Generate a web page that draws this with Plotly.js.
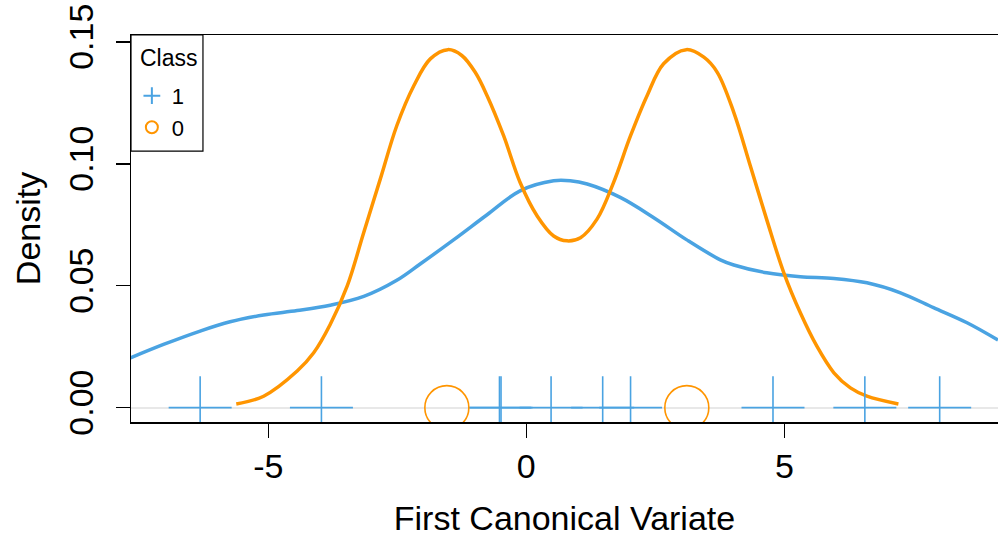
<!DOCTYPE html>
<html>
<head>
<meta charset="utf-8">
<script src="https://cdn.plot.ly/plotly-3.0.1.min.js"></script>
<style>
  html, body { margin: 0; padding: 0; background: #ffffff; }
  #chart { width: 998px; height: 539px; }
</style>
</head>
<body>
<div id="chart"></div>
<script>
// Density curve of class 1
const class1DensX = [-7.67, -7.03, -6.32, -5.74, -5.09, -4.44, -3.80, -3.15, -2.51, -2.05, -1.41, -0.76, -0.12, 0.53, 0.85, 1.18, 1.82, 2.47, 3.11, 3.76, 4.02, 4.66, 5.31, 5.96, 6.60, 7.25, 7.89, 8.54, 9.14];
const class1DensY = [0.0204, 0.0259, 0.0314, 0.0352, 0.0380, 0.0398, 0.0420, 0.0456, 0.0522, 0.0590, 0.0688, 0.0791, 0.0889, 0.0930, 0.0930, 0.0917, 0.0862, 0.0779, 0.0688, 0.0606, 0.0585, 0.0553, 0.0537, 0.0530, 0.0512, 0.0471, 0.0410, 0.0348, 0.0277];

// Density curve of class 0
const class0DensX = [-5.62, -5.09, -4.44, -4.12, -3.80, -3.47, -3.15, -2.83, -2.51, -2.18, -1.86, -1.52, -1.25, -0.99, -0.76, -0.44, -0.12, 0.21, 0.53, 0.79, 1.05, 1.37, 1.69, 2.02, 2.34, 2.66, 3.10, 3.44, 3.70, 4.02, 4.34, 4.66, 4.99, 5.31, 5.63, 5.96, 6.28, 6.60, 7.21];
const class0DensY = [0.0015, 0.0047, 0.0150, 0.0225, 0.0341, 0.0499, 0.0718, 0.0937, 0.1156, 0.1320, 0.1430, 0.1468, 0.1444, 0.1375, 0.1279, 0.1115, 0.0923, 0.0786, 0.0704, 0.0684, 0.0697, 0.0773, 0.0923, 0.1115, 0.1279, 0.1410, 0.1468, 0.1437, 0.1375, 0.1211, 0.0992, 0.0770, 0.0553, 0.0389, 0.0252, 0.0143, 0.0081, 0.0047, 0.0015];

// Observations (canonical variate scores) per class
const class1Points = [-6.32, -3.97, -0.52, -0.49, 0.48, 1.48, 2.02, 4.78, 6.56, 8.01];
const class0Points = [-1.54, 3.11];

// Axis ticks
const xTickVals = [-5, 0, 5];
const xTickText = ['-5', '0', '5'];
const yTickVals = [0, 0.05, 0.10, 0.15];
const yTickText = ['0.00', '0.05', '0.10', '0.15'];

const blue = '#4AA3E2';
const orange = '#FF9500';
const FONT = 'Liberation Sans, Arial, Helvetica, sans-serif';

const traces = [
  {
    x: class1DensX, y: class1DensY, type: 'scatter', mode: 'lines',
    line: { color: blue, width: 3.5, shape: 'spline', smoothing: 1 },
    showlegend: false, hoverinfo: 'skip'
  },
  {
    x: class0DensX, y: class0DensY, type: 'scatter', mode: 'lines',
    line: { color: orange, width: 3.5, shape: 'spline', smoothing: 1 },
    showlegend: false, hoverinfo: 'skip'
  },
  {
    x: class1Points, y: class1Points.map(() => 0), type: 'scatter', mode: 'markers',
    name: '1',
    marker: { symbol: 'cross-thin-open', size: 45, color: blue, line: { color: blue, width: 1.6 } },
    cliponaxis: true
  },
  {
    x: class0Points, y: class0Points.map(() => 0), type: 'scatter', mode: 'markers',
    name: '0',
    marker: { symbol: 'circle-open', size: 44, color: orange, line: { color: orange, width: 1.6 } },
    cliponaxis: true
  }
];

const layout = {
  width: 998, height: 539,
  margin: { l: 131, r: 0, t: 35, b: 117, pad: 0 },
  paper_bgcolor: '#ffffff', plot_bgcolor: '#ffffff',
  font: { family: FONT, color: '#000000' },
  showlegend: true,
  legend: {
    x: 0.001, y: 0.897, xanchor: 'left', yanchor: 'top',
    bgcolor: 'rgba(0,0,0,0)', borderwidth: 0,
    font: { family: FONT, size: 22, color: '#000000' },
    itemsizing: 'constant', tracegroupgap: 0
  },
  shapes: [
    { type: 'rect', xref: 'paper', yref: 'paper', x0: 0, x1: 0.083, y0: 0.700, y1: 1,
      line: { color: '#000000', width: 1.2 }, fillcolor: '#ffffff', layer: 'below' }
  ],
  annotations: [
    { text: 'Class', xref: 'paper', yref: 'paper', x: 0.0077, y: 0.9406,
      xanchor: 'left', yanchor: 'middle', showarrow: false,
      font: { family: FONT, size: 23, color: '#000000' } }
  ],
  xaxis: {
    range: [-7.66, 9.14], autorange: false,
    tickmode: 'array', tickvals: xTickVals, ticktext: xTickText,
    ticks: 'outside', ticklen: 14, tickwidth: 1.5, tickcolor: '#000000',
    showline: true, linecolor: '#000000', linewidth: 1.5, mirror: true,
    showgrid: false, zeroline: false,
    tickfont: { family: FONT, size: 34, color: '#000000' },
    title: { text: 'First Canonical Variate', font: { family: FONT, size: 34, color: '#000000' }, standoff: 22 },
    automargin: false
  },
  yaxis: {
    range: [-0.00588, 0.1528], autorange: false,
    tickmode: 'array', tickvals: yTickVals, ticktext: yTickText, tickangle: -90,
    ticks: 'outside', ticklen: 14, tickwidth: 1.5, tickcolor: '#000000',
    ticklabelstandoff: 9,
    showline: true, linecolor: '#000000', linewidth: 1.5, mirror: false,
    showgrid: false,
    zeroline: true, zerolinecolor: '#e8e8e8', zerolinewidth: 2,
    tickfont: { family: FONT, size: 34, color: '#000000' },
    title: { text: 'Density', font: { family: FONT, size: 34, color: '#000000' }, standoff: 11 },
    automargin: false
  }
};

Plotly.newPlot('chart', traces, layout, { displayModeBar: false, staticPlot: true });
</script>
</body>
</html>
